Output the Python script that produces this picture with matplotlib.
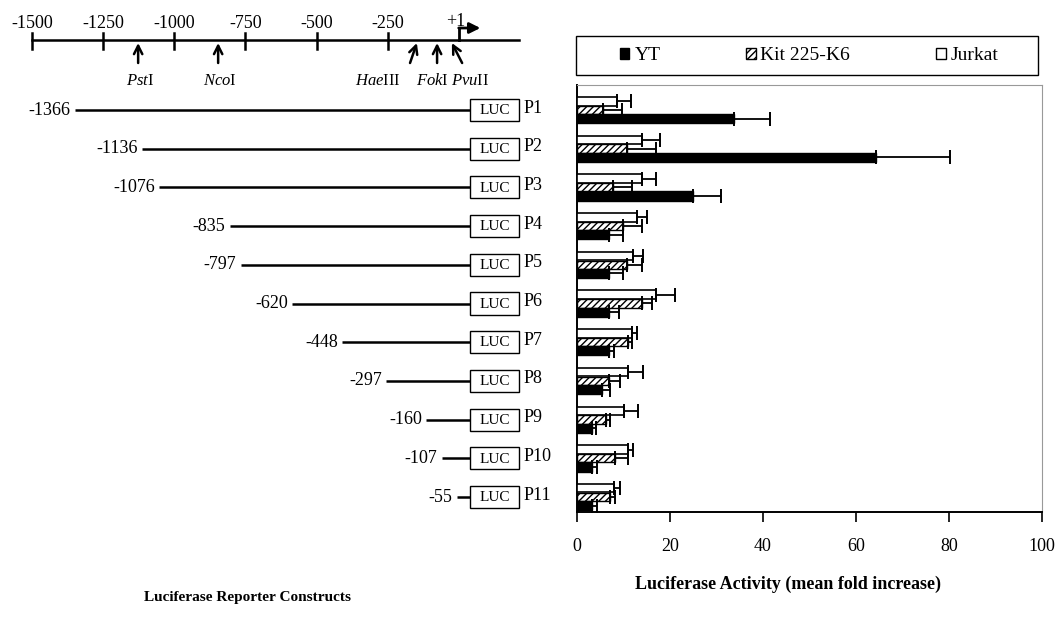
import matplotlib
matplotlib.use("Agg")
import matplotlib.pyplot as plt
from matplotlib.patches import Patch, Rectangle
import numpy as np

# ---------------- data ----------------
constructs = ["P1", "P2", "P3", "P4", "P5", "P6", "P7", "P8", "P9", "P10", "P11"]
starts = [-1366, -1136, -1076, -835, -797, -620, -448, -297, -160, -107, -55]

yt = [33.8, 64.3, 25.0, 6.9, 6.9, 6.9, 6.9, 5.3, 3.2, 3.2, 3.2]
yt_sd = [7.7, 15.9, 6.0, 2.9, 3.0, 2.1, 1.1, 1.8, 0.9, 1.0, 1.0]
kit = [5.6, 10.7, 7.8, 9.9, 10.8, 14.0, 10.9, 6.9, 6.2, 8.2, 7.1]
kit_sd = [4.1, 6.2, 4.0, 4.0, 3.1, 2.1, 1.0, 2.3, 0.9, 2.8, 1.1]
jurkat = [8.5, 13.9, 13.9, 12.8, 12.0, 17.0, 11.9, 11.0, 10.2, 11.0, 8.0]
jurkat_sd = [3.1, 3.9, 3.0, 2.2, 2.1, 4.1, 1.1, 3.2, 3.0, 1.1, 1.2]

series_names = ["YT", "Kit 225-K6", "Jurkat"]
x_ticks = [0, 20, 40, 60, 80, 100]

scale_ticks = [-1500, -1250, -1000, -750, -500, -250]
sites = ["Pst", "Nco", "Hae", "Fok", "Pvu"]
site_suffix = ["I", "I", "III", "I", "II"]
site_bp = [-1127, -846, -148, -77, -25]

# ---------------- style ----------------
plt.rcParams["font.family"] = ["Liberation Serif", "DejaVu Serif"]
plt.rcParams["mathtext.fontset"] = "custom"
plt.rcParams["mathtext.rm"] = "Liberation Serif"
plt.rcParams["mathtext.it"] = "Liberation Serif:italic"
plt.rcParams["hatch.linewidth"] = 1.0

W, H = 1060, 617
fig = plt.figure(figsize=(W / 100, H / 100), dpi=100)

def fx(px):
    return px / W

def fy(py):
    return 1 - py / H

# ---------------- bar chart ----------------
ax = fig.add_axes([fx(577), fy(512), fx(1042) - fx(577), fy(85) - fy(512)])
n = len(constructs)
y = np.arange(n)
bh = 0.22
off = 0.225
zeros = np.zeros(n)

ekw = dict(ecolor="black", elinewidth=1.3, capsize=5, capthick=1.4)
ax.barh(y - off, jurkat, height=bh, color="white", edgecolor="black", lw=1.2,
        xerr=[zeros, jurkat_sd], error_kw=ekw, zorder=3)
ax.barh(y, kit, height=bh, color="white", edgecolor="black", lw=1.0, hatch="/////",
        xerr=[zeros, kit_sd], error_kw=ekw, zorder=3)
ax.barh(y + off, yt, height=bh + 0.02, color="black", edgecolor="black", lw=1.0,
        xerr=[zeros, yt_sd], error_kw=ekw, zorder=3)

ax.set_xlim(0, 100)
ax.set_ylim(10.39, -0.646)
ax.set_yticks([])
ax.set_xticks(x_ticks)
ax.set_xticklabels([str(t) for t in x_ticks], fontsize=13)
ax.tick_params(axis="x", direction="out", length=7, width=1.2, pad=12)
for s in ["left", "bottom"]:
    ax.spines[s].set_linewidth(1.4)
    ax.spines[s].set_color("black")
for s in ["top", "right"]:
    ax.spines[s].set_linewidth(0.8)
    ax.spines[s].set_color("#999999")

# legend
handles = [Patch(fc="black", ec="black", lw=1),
           Patch(fc="white", ec="black", hatch="/////", lw=1),
           Patch(fc="white", ec="black", lw=1)]
fig.legend(handles, series_names, loc="center", bbox_to_anchor=(fx(809), fy(55.5)),
           ncol=3, frameon=False, fontsize=14, columnspacing=4.4,
           handlelength=0.5, handleheight=0.5, handletextpad=0.25)
fig.patches.append(Rectangle((fx(576), fy(75)), fx(1038) - fx(576), fy(36) - fy(75),
                             transform=fig.transFigure, fill=False, ec="black", lw=1.0))

# ---------------- constructs ----------------
axc = fig.add_axes([0, 0, fx(560), 1])
axc.set_axis_off()
c_slope, c_zero = 0.2914, 473.0
axc.set_xlim((0 - c_zero) / c_slope, (560 - c_zero) / c_slope)
row0, row_dy = 110.0, 38.7
axc.set_ylim((617 - row0) / row_dy, (0 - row0) / row_dy)

box_x0, box_w, box_h = -10, 168, 0.57
for i, (name, st) in enumerate(zip(constructs, starts)):
    axc.plot([st, box_x0], [i, i], color="black", lw=1.8, solid_capstyle="butt")
    axc.add_patch(Rectangle((box_x0, i - box_h / 2), box_w, box_h, fill=False,
                            ec="black", lw=1.0))
    axc.text(box_x0 + box_w / 2, i + 0.02, "LUC", ha="center", va="center", fontsize=11)
    axc.text(box_x0 + box_w + 14, i - 0.05, name, ha="left", va="center", fontsize=13)
    axc.text(st - 15, i, str(st), ha="right", va="center", fontsize=13)

# ---------------- top scale ----------------
axs = fig.add_axes([0, 0, fx(560), 1])
axs.set_axis_off()
s_slope, s_zero = 0.2847, 459.0
axs.set_xlim((0 - s_zero) / s_slope, (560 - s_zero) / s_slope)
axs.set_ylim(617, 0)
line_y = 40
axs.plot([scale_ticks[0], 211], [line_y, line_y], color="black", lw=1.8)
for t in scale_ticks:
    axs.plot([t, t], [33, 49], color="black", lw=1.8)
    axs.text(t, 23, str(t), ha="center", va="center", fontsize=13)
axs.text(-10, 22, "+1", ha="center", va="center", fontsize=13)
# transcription start bent arrow
axs.plot([0, 0], [line_y, 28], color="black", lw=2.0)
axs.annotate("", xy=(75, 28), xytext=(-1, 28),
             arrowprops=dict(arrowstyle="-|>", color="black", lw=2.0, mutation_scale=16,
                             shrinkA=0, shrinkB=0))

tail_shift = [0, 0, -24, 0, 36]
label_bp = [-1120, -839, -284, -95, 39]
for nm, sfx, bp, ts, lb in zip(sites, site_suffix, site_bp, tail_shift, label_bp):
    axs.annotate("", xy=(bp, 43), xytext=(bp + ts, 63),
                 arrowprops=dict(arrowstyle="->", color="black", lw=1.8,
                                 mutation_scale=15, shrinkA=0, shrinkB=0))
    axs.text(lb, 81, r"$\mathit{%s}$%s" % (nm, sfx), ha="center", va="center", fontsize=12)

# ---------------- titles ----------------
fig.text(fx(248), fy(598), "Luciferase Reporter Constructs", ha="center", va="center",
         fontsize=11, fontweight="bold")
fig.text(fx(788), fy(584), "Luciferase Activity (mean fold increase)", ha="center",
         va="center", fontsize=13, fontweight="bold")

fig.savefig("out.png", dpi=100)
